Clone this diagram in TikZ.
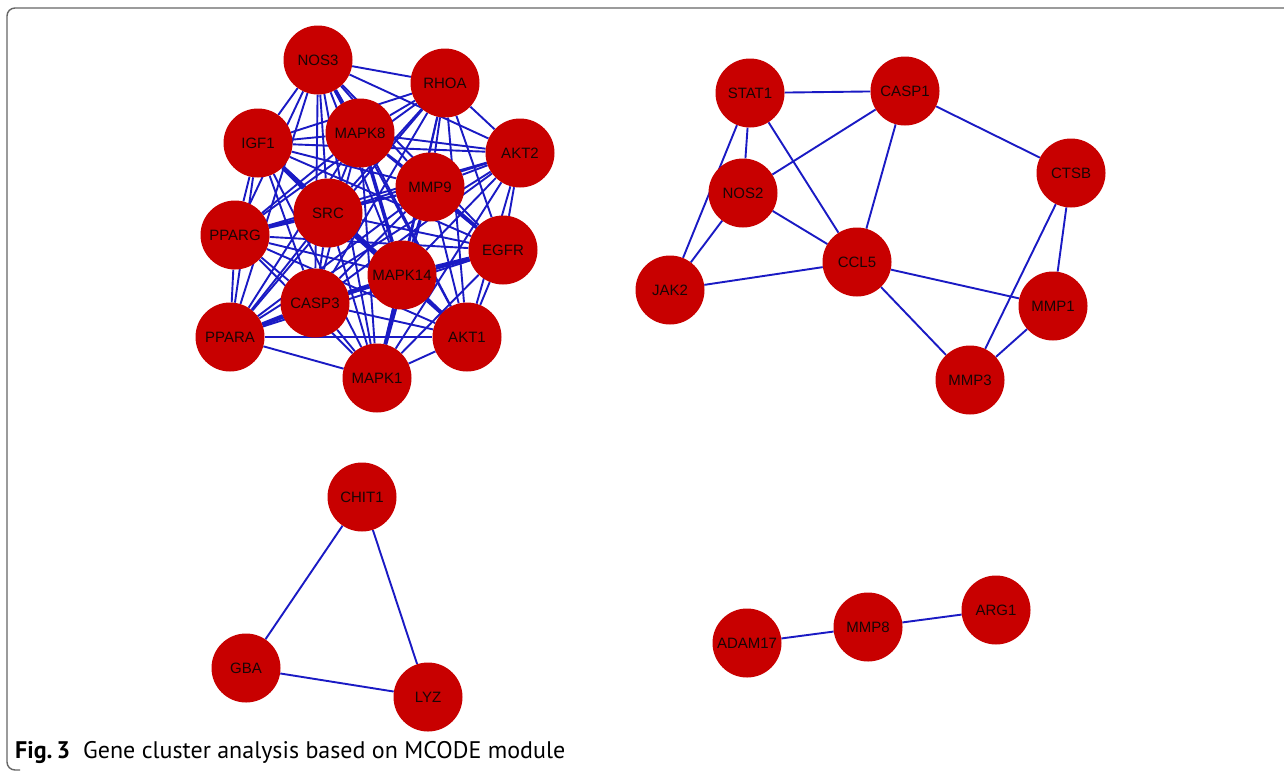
\documentclass[tikz,border=0pt]{standalone}
\usepackage{fontspec}
\setmainfont{Liberation Sans}
\newfontfamily\capfont{PT Sans}
\usetikzlibrary{backgrounds}
\definecolor{nodered}{HTML}{C80000}
\definecolor{edgeblue}{HTML}{1A1AC4}
\definecolor{labelink}{HTML}{1A0505}
\definecolor{framegray}{HTML}{666666}
\tikzset{
  gene/.style={circle, fill=nodered, draw=none, minimum size=69pt, inner sep=0pt,
    font=\fontsize{15}{17}\selectfont, text=labelink},
  link/.style={draw=edgeblue, line width=1.9pt},
  thicklink/.style={draw=edgeblue, line width=3.6pt},
  frame/.style={draw=framegray, line width=1.4pt, rounded corners=8pt}
}
\begin{document}
\begin{tikzpicture}[x=1pt,y=-1pt]
\useasboundingbox (0,0) rectangle (1284,774);
\draw[frame] (1284,8) -- (7,8) -- (7,770) -- (20,770);
% cluster 1
\node[gene] (NOS3) at (318,60) {NOS3};
\node[gene] (RHOA) at (445,83) {RHOA};
\node[gene] (IGF1) at (258,143) {IGF1};
\node[gene] (MAPK8) at (360,133) {MAPK8};
\node[gene] (AKT2) at (520,153) {AKT2};
\node[gene] (MMP9) at (430,187) {MMP9};
\node[gene] (SRC) at (328,213) {SRC};
\node[gene] (PPARG) at (235,235) {PPARG};
\node[gene] (EGFR) at (503,250) {EGFR};
\node[gene] (MAPK14) at (402,275) {MAPK14};
\node[gene] (CASP3) at (315,303) {CASP3};
\node[gene] (PPARA) at (230,337) {PPARA};
\node[gene] (AKT1) at (467,337) {AKT1};
\node[gene] (MAPK1) at (377,378) {MAPK1};
% cluster 2
\node[gene] (STAT1) at (750,93) {STAT1};
\node[gene] (CASP1) at (905,91) {CASP1};
\node[gene] (CTSB) at (1071,173) {CTSB};
\node[gene] (NOS2) at (743,193) {NOS2};
\node[gene] (CCL5) at (857,262) {CCL5};
\node[gene] (JAK2) at (670,290) {JAK2};
\node[gene] (MMP1) at (1053,306) {MMP1};
\node[gene] (MMP3) at (970,380) {MMP3};
% cluster 3
\node[gene] (CHIT1) at (362,497) {CHIT1};
\node[gene] (GBA) at (246,668) {GBA};
\node[gene] (LYZ) at (428,697) {LYZ};
% cluster 4
\node[gene] (ADAM17) at (747,643) {ADAM17};
\node[gene] (MMP8) at (868,627) {MMP8};
\node[gene] (ARG1) at (996,610) {ARG1};
\begin{pgfonlayer}{background}
\fill[white] (0,0) rectangle (1284,774);
\foreach \a [count=\i] in {NOS3,RHOA,IGF1,MAPK8,AKT2,MMP9,SRC,PPARG,EGFR,MAPK14,CASP3,PPARA,AKT1,MAPK1}{
  \foreach \b [count=\j] in {NOS3,RHOA,IGF1,MAPK8,AKT2,MMP9,SRC,PPARG,EGFR,MAPK14,CASP3,PPARA,AKT1,MAPK1}{
    \ifnum\j>\i \draw[link] (\a) -- (\b); \fi
  }
}
\foreach \a/\b in {SRC/MAPK14,IGF1/SRC,PPARG/SRC,PPARA/CASP3,MAPK14/MAPK1,MAPK14/EGFR,MAPK14/AKT1,MAPK8/MAPK14,CASP3/MAPK14,MMP9/EGFR,NOS3/MAPK8}
  \draw[thicklink] (\a) -- (\b);
\foreach \a/\b in {STAT1/CASP1,STAT1/NOS2,STAT1/JAK2,STAT1/CCL5,CASP1/NOS2,CASP1/CCL5,CASP1/CTSB,NOS2/JAK2,NOS2/CCL5,JAK2/CCL5,CCL5/MMP1,CCL5/MMP3,CTSB/MMP1,CTSB/MMP3,MMP1/MMP3,CHIT1/GBA,CHIT1/LYZ,GBA/LYZ,ADAM17/MMP8,MMP8/ARG1}
  \draw[link] (\a) -- (\b);
\end{pgfonlayer}
\node[anchor=base west, inner sep=0pt, font=\capfont\fontsize{24}{26}\selectfont] (caption) at (15,758) {\textbf{Fig.\,3}\hspace{13pt}Gene cluster analysis based on MCODE module};
\end{tikzpicture}
\end{document}
